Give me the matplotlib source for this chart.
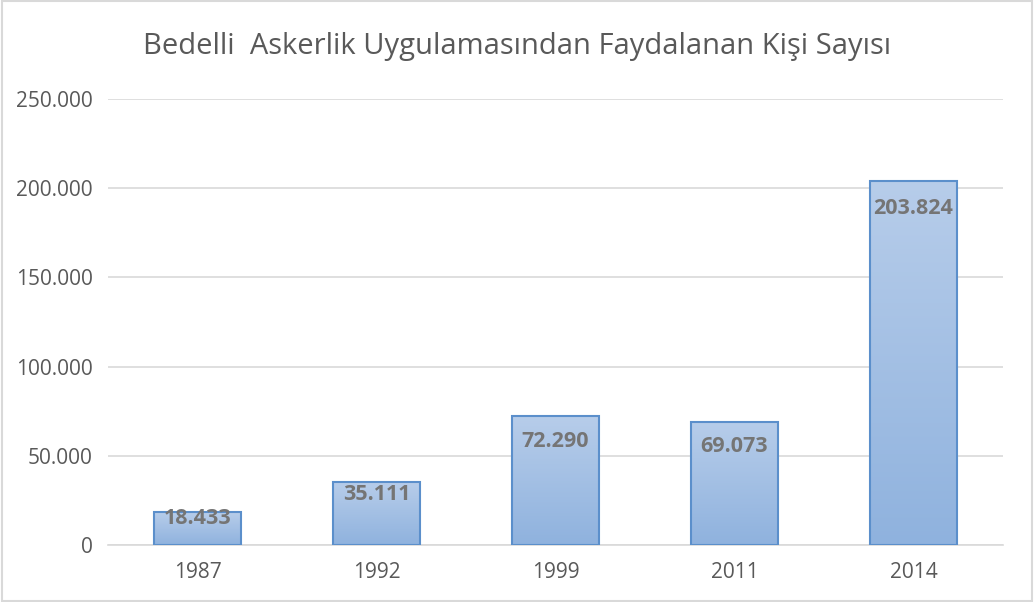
import matplotlib.pyplot as plt
import numpy as np
from matplotlib.colors import LinearSegmentedColormap
from matplotlib.ticker import FuncFormatter

years = ["1987", "1992", "1999", "2011", "2014"]
counts = [18433, 35111, 72290, 69073, 203824]
y_ticks = [0, 50000, 100000, 150000, 200000, 250000]

TEXT_GREY = "#595959"
LABEL_GREY = "#757575"
GRID_GREY = "#d9d9d9"

plt.rcParams["font.family"] = ["Open Sans", "DejaVu Sans"]


def tr_number(value: float) -> str:
    return f"{int(value):,}".replace(",", ".")


fig = plt.figure(figsize=(10.34, 6.02), dpi=100)
ax = fig.add_axes([0.1044, 0.0947, 0.8656, 0.7408])

x = np.arange(len(years))
bars = ax.bar(x, counts, width=0.49, facecolor="none", edgecolor="#5b8fcb", linewidth=1.5, zorder=3)

cmap = LinearSegmentedColormap.from_list("bar_grad", ["#8fb2de", "#b7cdea"])
gradient = np.linspace(0, 1, 256).reshape(-1, 1)
for bar in bars:
    x0, w, h = bar.get_x(), bar.get_width(), bar.get_height()
    img = ax.imshow(gradient, cmap=cmap, aspect="auto", origin="lower",
                    extent=(x0, x0 + w, 0, h), zorder=2)
    img.set_clip_path(bar)

ax.set_xlim(-0.5, len(years) - 0.5)
ax.set_ylim(0, 250000)
ax.set_yticks(y_ticks)
ax.yaxis.set_major_formatter(FuncFormatter(lambda v, _: tr_number(v)))
ax.set_xticks(x)
ax.set_xticklabels(years)
ax.tick_params(length=0, labelsize=15, labelcolor=TEXT_GREY)
ax.tick_params(axis="y", pad=11)
ax.tick_params(axis="x", pad=12)
ax.grid(axis="y", color=GRID_GREY, linewidth=1.2, zorder=0)
for side in ["top", "right", "left"]:
    ax.spines[side].set_visible(False)
ax.spines["bottom"].set_color(GRID_GREY)
ax.spines["bottom"].set_linewidth(1.2)

px_per_unit = ax.get_position().height * fig.get_figheight() * 72 / 250000
for xi, value in zip(x, counts):
    height_pt = value * px_per_unit
    offset = min(19.5, height_pt * 0.2)
    ax.annotate(tr_number(value), (xi, value), xytext=(0, -offset), textcoords="offset points",
                ha="center", va="center", fontsize=15.5, fontweight="bold", color=LABEL_GREY, zorder=4)

fig.text(0.5, 0.922, "Bedelli  Askerlik Uygulamasından Faydalanan Kişi Sayısı",
         ha="center", va="center", fontsize=21, color=TEXT_GREY)

fig.patches.append(plt.Rectangle((0.002, 0.002), 0.996, 0.996, transform=fig.transFigure,
                                 fill=False, edgecolor="#d9d9d9", linewidth=1.5))

fig.savefig("out.png", dpi=100)
